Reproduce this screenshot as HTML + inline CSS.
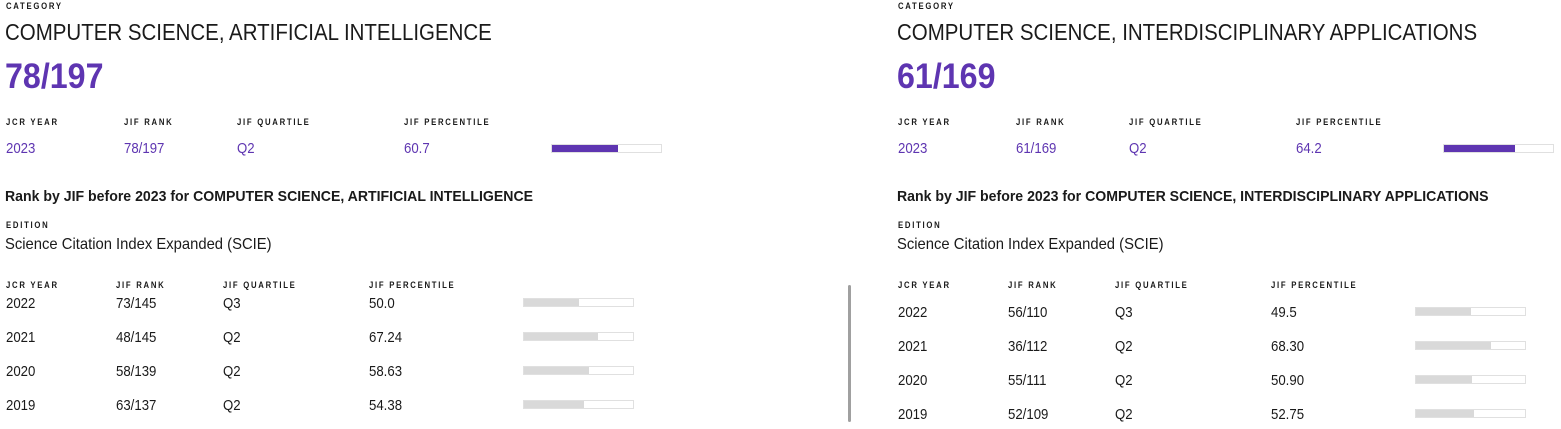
<!DOCTYPE html>
<html><head><meta charset="utf-8"><style>
body{margin:0;width:1561px;height:429px;background:#fff;position:relative;overflow:hidden;font-family:"Liberation Sans",sans-serif;color:#1a1a1a}
.t{position:absolute;white-space:nowrap;transform:scaleX(.86);transform-origin:0 50%}
.h{font-size:9px;font-weight:bold;letter-spacing:2px;line-height:10px}
.v{font-size:15px;line-height:16px;transform:scaleX(.88);margin-top:1px}
.ti{font-size:23px;line-height:26px;transform:scaleX(.89)}
.big{font-size:35px;line-height:38px;font-weight:bold;transform:scaleX(.92)}
.rk{font-size:15px;line-height:18px;font-weight:bold;transform:scaleX(.94)}
.ed{font-size:16px;line-height:18px;transform:scaleX(.925)}
.p{color:#5e35b1}
.bar{position:absolute;width:109px;height:7px;border:1px solid #e0e0e0;background:#fff}
.bar i{position:absolute;left:0;top:0;bottom:0;background:#d9d9d9}
.bar.pu i{background:#5e35b1}
</style></head><body>

<!-- LEFT -->
<div class="t h" style="left:6px;top:1px">CATEGORY</div>
<div class="t ti" style="left:5px;top:19px">COMPUTER SCIENCE, ARTIFICIAL INTELLIGENCE</div>
<div class="t p big" style="left:5px;top:58px">78/197</div>
<div class="t h" style="left:6px;top:117px">JCR YEAR</div>
<div class="t h" style="left:124px;top:117px">JIF RANK</div>
<div class="t h" style="left:237px;top:117px">JIF QUARTILE</div>
<div class="t h" style="left:404px;top:117px">JIF PERCENTILE</div>
<div class="t v p" style="left:6px;top:140px">2023</div>
<div class="t v p" style="left:124px;top:140px">78/197</div>
<div class="t v p" style="left:237px;top:140px">Q2</div>
<div class="t v p" style="left:404px;top:140px">60.7</div>
<div class="bar pu" style="left:551px;top:144px"><i style="width:66px"></i></div>
<div class="t rk" style="left:5px;top:188px">Rank by JIF before 2023 for COMPUTER SCIENCE, ARTIFICIAL INTELLIGENCE</div>
<div class="t h" style="left:6px;top:220px">EDITION</div>
<div class="t ed" style="left:5px;top:236px">Science Citation Index Expanded (SCIE)</div>
<div class="t h" style="left:6px;top:280px">JCR YEAR</div>
<div class="t h" style="left:116px;top:280px">JIF RANK</div>
<div class="t h" style="left:223px;top:280px">JIF QUARTILE</div>
<div class="t h" style="left:369px;top:280px">JIF PERCENTILE</div>

<div class="t v" style="left:6px;top:295px">2022</div><div class="t v" style="left:116px;top:295px">73/145</div><div class="t v" style="left:223px;top:295px">Q3</div><div class="t v" style="left:369px;top:295px">50.0</div>
<div class="bar" style="left:523px;top:298px"><i style="width:55px"></i></div>
<div class="t v" style="left:6px;top:329px">2021</div><div class="t v" style="left:116px;top:329px">48/145</div><div class="t v" style="left:223px;top:329px">Q2</div><div class="t v" style="left:369px;top:329px">67.24</div>
<div class="bar" style="left:523px;top:332px"><i style="width:74px"></i></div>
<div class="t v" style="left:6px;top:363px">2020</div><div class="t v" style="left:116px;top:363px">58/139</div><div class="t v" style="left:223px;top:363px">Q2</div><div class="t v" style="left:369px;top:363px">58.63</div>
<div class="bar" style="left:523px;top:366px"><i style="width:65px"></i></div>
<div class="t v" style="left:6px;top:397px">2019</div><div class="t v" style="left:116px;top:397px">63/137</div><div class="t v" style="left:223px;top:397px">Q2</div><div class="t v" style="left:369px;top:397px">54.38</div>
<div class="bar" style="left:523px;top:400px"><i style="width:60px"></i></div>

<div style="position:absolute;left:848px;top:285px;width:3px;height:137px;background:#a0a0a0;border-radius:2px"></div>

<!-- RIGHT -->
<div class="t h" style="left:898px;top:1px">CATEGORY</div>
<div class="t ti" style="left:897px;top:19px">COMPUTER SCIENCE, INTERDISCIPLINARY APPLICATIONS</div>
<div class="t p big" style="left:897px;top:58px">61/169</div>
<div class="t h" style="left:898px;top:117px">JCR YEAR</div>
<div class="t h" style="left:1016px;top:117px">JIF RANK</div>
<div class="t h" style="left:1129px;top:117px">JIF QUARTILE</div>
<div class="t h" style="left:1296px;top:117px">JIF PERCENTILE</div>
<div class="t v p" style="left:898px;top:140px">2023</div>
<div class="t v p" style="left:1016px;top:140px">61/169</div>
<div class="t v p" style="left:1129px;top:140px">Q2</div>
<div class="t v p" style="left:1296px;top:140px">64.2</div>
<div class="bar pu" style="left:1443px;top:144px"><i style="width:71px"></i></div>
<div class="t rk" style="left:897px;top:188px">Rank by JIF before 2023 for COMPUTER SCIENCE, INTERDISCIPLINARY APPLICATIONS</div>
<div class="t h" style="left:898px;top:220px">EDITION</div>
<div class="t ed" style="left:897px;top:236px">Science Citation Index Expanded (SCIE)</div>
<div class="t h" style="left:898px;top:280px">JCR YEAR</div>
<div class="t h" style="left:1008px;top:280px">JIF RANK</div>
<div class="t h" style="left:1115px;top:280px">JIF QUARTILE</div>
<div class="t h" style="left:1271px;top:280px">JIF PERCENTILE</div>

<div class="t v" style="left:898px;top:304px">2022</div><div class="t v" style="left:1008px;top:304px">56/110</div><div class="t v" style="left:1115px;top:304px">Q3</div><div class="t v" style="left:1271px;top:304px">49.5</div>
<div class="bar" style="left:1415px;top:307px"><i style="width:55px"></i></div>
<div class="t v" style="left:898px;top:338px">2021</div><div class="t v" style="left:1008px;top:338px">36/112</div><div class="t v" style="left:1115px;top:338px">Q2</div><div class="t v" style="left:1271px;top:338px">68.30</div>
<div class="bar" style="left:1415px;top:341px"><i style="width:75px"></i></div>
<div class="t v" style="left:898px;top:372px">2020</div><div class="t v" style="left:1008px;top:372px">55/111</div><div class="t v" style="left:1115px;top:372px">Q2</div><div class="t v" style="left:1271px;top:372px">50.90</div>
<div class="bar" style="left:1415px;top:375px"><i style="width:56px"></i></div>
<div class="t v" style="left:898px;top:406px">2019</div><div class="t v" style="left:1008px;top:406px">52/109</div><div class="t v" style="left:1115px;top:406px">Q2</div><div class="t v" style="left:1271px;top:406px">52.75</div>
<div class="bar" style="left:1415px;top:409px"><i style="width:58px"></i></div>

</body></html>
